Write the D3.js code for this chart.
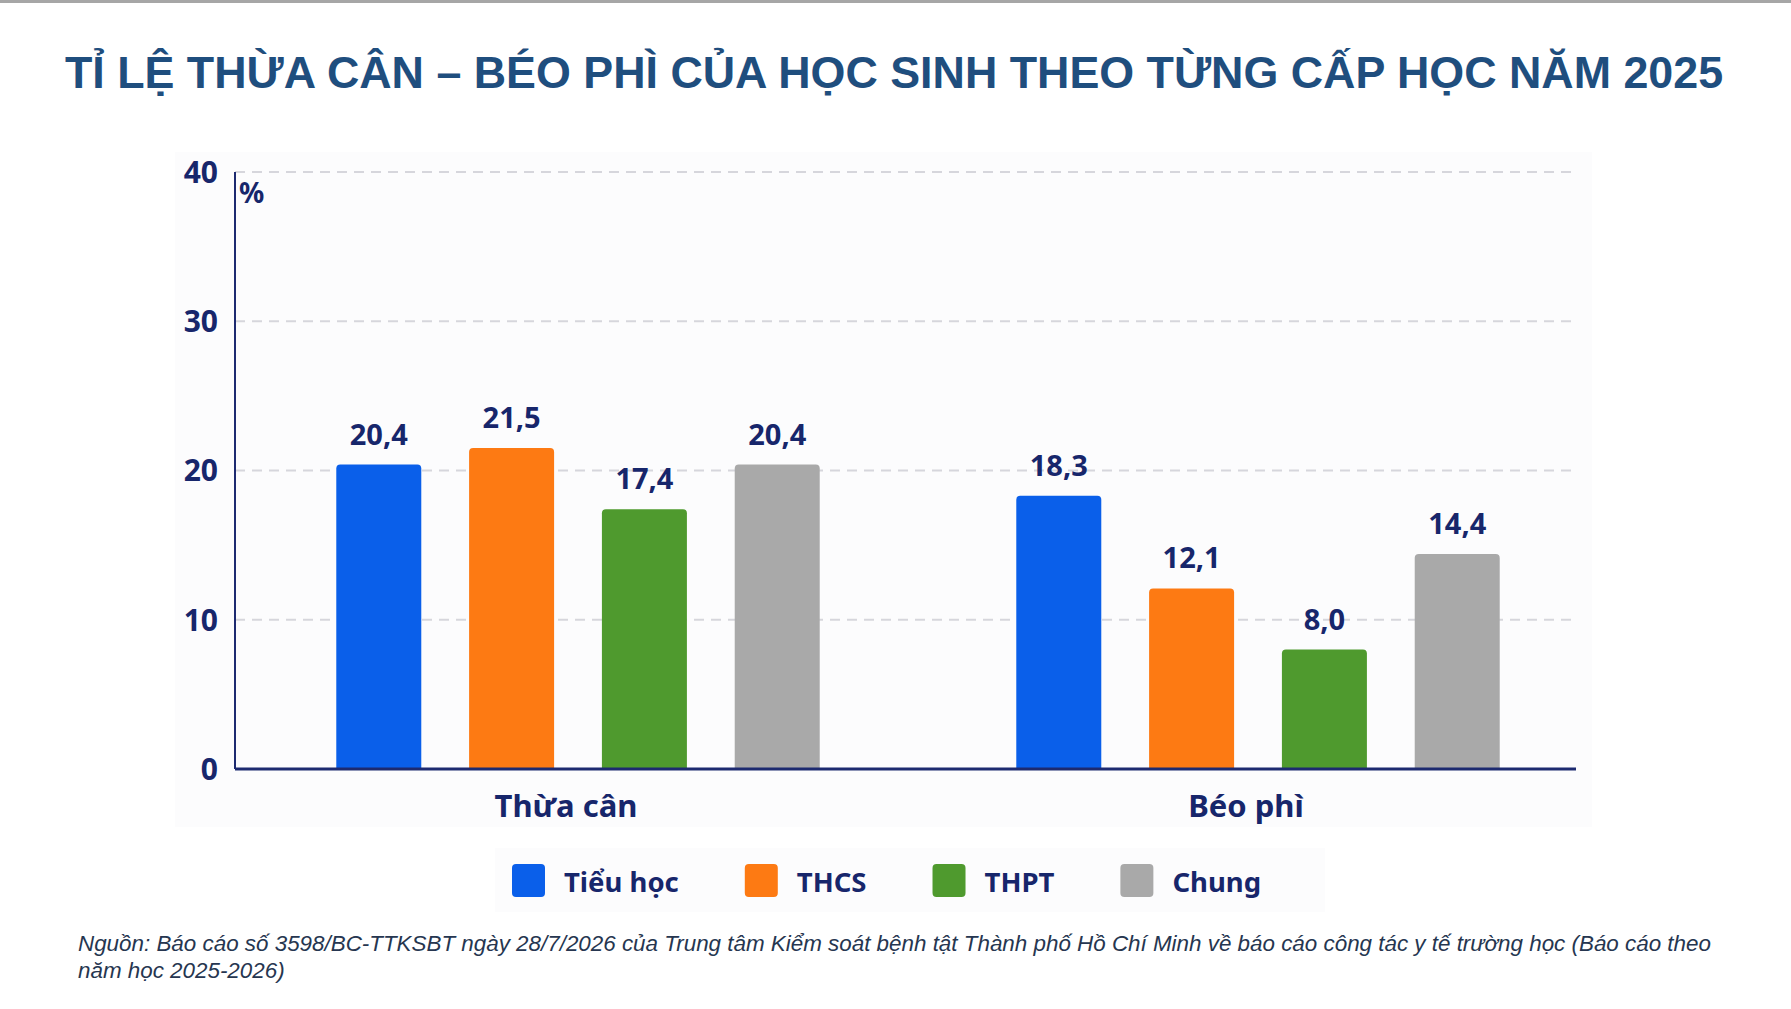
<!DOCTYPE html>
<html>
<head>
<meta charset="utf-8">
<script src="https://cdn.jsdelivr.net/npm/d3@7"></script>
<style>
    html, body { margin: 0; padding: 0; background: #fff; }
    svg { display: block; }
    .lbl { font-family: "Noto Sans", sans-serif; font-weight: 700; fill: #17266b; }
</style>
</head>
<body>
<script>
// data
const groups = ['Thừa cân', 'Béo phì'];
const levels = ['Tiểu học', 'THCS', 'THPT', 'Chung'];
const thuaCan = [20.4, 21.5, 17.4, 20.4];
const beoPhi = [18.3, 12.1, 8.0, 14.4];
const yTicks = [0, 10, 20, 30, 40];
const colors = ['#0a5fea', '#fd7a13', '#4f9a2e', '#a9a9a9'];

const title = 'TỈ LỆ THỪA CÂN – BÉO PHÌ CỦA HỌC SINH THEO TỪNG CẤP HỌC NĂM 2025';
const source = [
    'Nguồn: Báo cáo số 3598/BC-TTKSBT ngày 28/7/2026 của Trung tâm Kiểm soát bệnh tật Thành phố Hồ Chí Minh về báo cáo công tác y tế trường học (Báo cáo theo',
    'năm học 2025-2026)'
];

// rows built from the arrays
const series = [thuaCan, beoPhi];
const rows = groups.map((g, i) => ({
    g: g,
    vals: levels.map((k, j) => ({ g: g, k: k, v: series[i][j] }))
}));

const width = 1791, height = 1009;
const fmt = d3.formatLocale({ decimal: ',', thousands: '.', grouping: [3], currency: ['', ''] }).format('.1f');

const svg = d3.select('body').append('svg')
    .attr('width', width).attr('height', height);

// top border
svg.append('rect').attr('x', 0).attr('y', 0).attr('width', width).attr('height', 3).attr('fill', '#a6a6a6');

// title
svg.append('text')
    .attr('x', 894).attr('y', 88)
    .attr('text-anchor', 'middle')
    .style('font-family', '"Liberation Sans", Arial, sans-serif')
    .style('font-weight', 700)
    .style('font-size', '44.8px')
    .attr('fill', '#1f4e7e')
    .text(title);

// panel backgrounds (very faint)
svg.append('rect').attr('x', 175).attr('y', 152).attr('width', 1417).attr('height', 675).attr('fill', '#fcfcfd');
svg.append('rect').attr('x', 495).attr('y', 848).attr('width', 830).attr('height', 64).attr('fill', '#fcfcfd');

// scales
const y = d3.scaleLinear().domain([0, 40]).range([769, 172]);
const x0 = d3.scaleBand().domain(groups).range([238, 1598]);
const x1 = d3.scaleBand().domain(levels).range([0, x0.bandwidth()])
    .paddingInner(0.36).paddingOuter(0.74);
const color = d3.scaleOrdinal().domain(levels).range(colors);

const axisLeft = 235, axisRight = 1576;

// gridlines
svg.append('g')
    .selectAll('line')
    .data(yTicks.filter(d => d > 0))
    .join('line')
    .attr('x1', axisLeft).attr('x2', axisRight)
    .attr('y1', d => y(d)).attr('y2', d => y(d))
    .attr('stroke', '#d6d6dc')
    .attr('stroke-width', 2)
    .attr('stroke-dasharray', '10,7');

// y tick labels
svg.append('g')
    .selectAll('text')
    .data(yTicks)
    .join('text')
    .classed('lbl', true)
    .attr('x', 218)
    .attr('y', d => y(d))
    .attr('dy', '0.36em')
    .attr('text-anchor', 'end')
    .style('font-size', '30px')
    .text(d => d);

// unit
svg.append('text').classed('lbl', true)
    .attr('x', 239).attr('y', 203)
    .style('font-size', '28px')
    .text('%');

// bars, rounded top corners
const r = 4;
const barPath = d => {
    const x = x0(d.g) + x1(d.k), w = x1.bandwidth(), top = y(d.v), bot = y(0);
    return `M${x},${bot}V${top + r}Q${x},${top} ${x + r},${top}H${x + w - r}Q${x + w},${top} ${x + w},${top + r}V${bot}Z`;
};

const grp = svg.append('g').selectAll('g.grp')
    .data(rows)
    .join('g').classed('grp', true);

grp.selectAll('path.bar')
    .data(d => d.vals)
    .join('path')
    .classed('bar', true)
    .attr('d', barPath)
    .attr('fill', d => color(d.k));

grp.selectAll('text.val')
    .data(d => d.vals)
    .join('text')
    .classed('lbl val', true)
    .attr('x', d => x0(d.g) + x1(d.k) + x1.bandwidth() / 2)
    .attr('y', d => y(d.v) - 20)
    .attr('text-anchor', 'middle')
    .style('font-size', '29px')
    .text(d => fmt(d.v));

// axes lines
svg.append('line')
    .attr('x1', axisLeft).attr('x2', axisLeft)
    .attr('y1', y(40)).attr('y2', y(0))
    .attr('stroke', '#1d2a70').attr('stroke-width', 2);
svg.append('line')
    .attr('x1', axisLeft).attr('x2', axisRight)
    .attr('y1', y(0)).attr('y2', y(0))
    .attr('stroke', '#1d2a70').attr('stroke-width', 3);

// category labels
svg.append('g')
    .selectAll('text')
    .data(groups)
    .join('text')
    .classed('lbl', true)
    .attr('x', d => x0(d) + x0.bandwidth() / 2 - 12)
    .attr('y', 817)
    .attr('text-anchor', 'middle')
    .style('font-size', '31px')
    .text(d => d);

// legend
const legend = svg.append('g');
let lx = 512;
levels.forEach(k => {
    legend.append('rect')
        .attr('x', lx).attr('y', 864)
        .attr('width', 33).attr('height', 33)
        .attr('rx', 4)
        .attr('fill', color(k));
    const t = legend.append('text')
        .classed('lbl', true)
        .attr('x', lx + 52).attr('y', 892)
        .style('font-size', '27.5px')
        .text(k);
    lx = lx + 52 + t.node().getComputedTextLength() + 66;
});

// source note
svg.append('text')
    .attr('x', 78).attr('y', 951)
    .style('font-family', '"Liberation Sans", Arial, sans-serif')
    .style('font-style', 'italic')
    .style('font-size', '22.4px')
    .attr('fill', '#263650')
    .selectAll('tspan')
    .data(source)
    .join('tspan')
    .attr('x', 78)
    .attr('dy', (d, i) => i === 0 ? 0 : 27)
    .text(d => d);
</script>
</body>
</html>
